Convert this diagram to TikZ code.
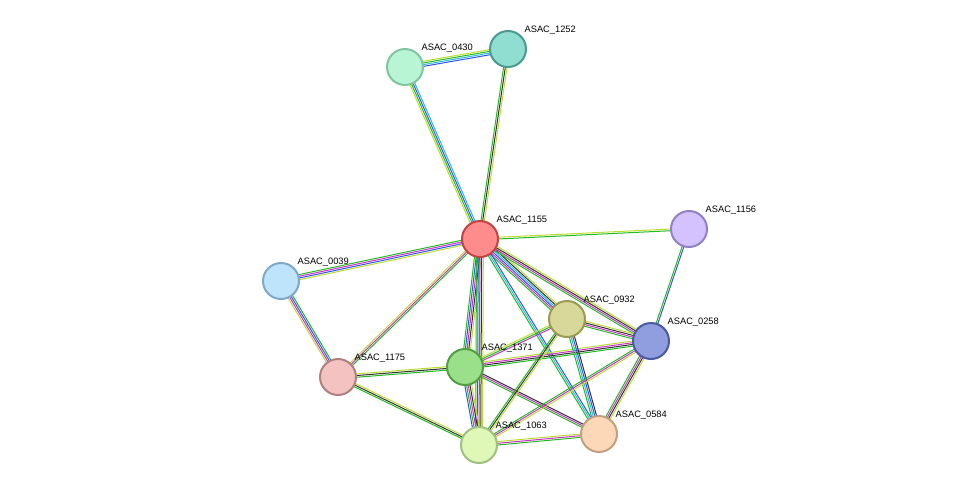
\documentclass[tikz,border=0pt]{standalone}
\usepackage{fontspec}
\setmainfont{Liberation Sans}
\usetikzlibrary{calc,backgrounds}
\definecolor{eg}{HTML}{22BB22}
\definecolor{eb}{HTML}{3355EE}
\definecolor{em}{HTML}{CC33CC}
\definecolor{ek}{HTML}{333333}
\definecolor{ey}{HTML}{BBDD33}
\definecolor{ec}{HTML}{33BBDD}
\definecolor{fA}{HTML}{B8F5D4}\definecolor{dA}{HTML}{80C4A0}
\definecolor{fB}{HTML}{90DED2}\definecolor{dB}{HTML}{4A9A90}
\definecolor{fC}{HTML}{FF8C8C}\definecolor{dC}{HTML}{C04444}
\definecolor{fD}{HTML}{D4C2FF}\definecolor{dD}{HTML}{9080C4}
\definecolor{fE}{HTML}{BEE4FB}\definecolor{dE}{HTML}{80A8C8}
\definecolor{fF}{HTML}{D8D89A}\definecolor{dF}{HTML}{9A9A50}
\definecolor{fG}{HTML}{909EE0}\definecolor{dG}{HTML}{4A5AA0}
\definecolor{fH}{HTML}{9ADF8A}\definecolor{dH}{HTML}{50A040}
\definecolor{fI}{HTML}{F5C2C2}\definecolor{dI}{HTML}{B08080}
\definecolor{fJ}{HTML}{DFF8B8}\definecolor{dJ}{HTML}{A0C080}
\definecolor{fK}{HTML}{FCD8B8}\definecolor{dK}{HTML}{C0A080}
\newcommand\edg[4]{%
  \foreach \c [count=\i] in {#4} {%
    \pgfmathsetmacro\o{(\i-(#3+1)/2)*1.7}%
    \draw[\c, line width=1pt] ($(#1)!\o pt!90:(#2)$) -- ($(#2)!\o pt!-90:(#1)$);
  }}
\tikzset{
  prot/.style n args={3}{circle, minimum size=36pt, inner sep=0pt, line width=2pt, draw=#2, fill=#1,
    label={[anchor=south west, inner sep=1pt, xshift=2pt, font=\fontsize{9.3pt}{11pt}\selectfont]45:#3}}
}
\begin{document}
\begin{tikzpicture}[x=1pt,y=-1pt]
\useasboundingbox (0,0) rectangle (975,491);
\node[prot={fA}{dA}{ASAC\_0430}] (n0430) at (405,67) {};
\node[prot={fB}{dB}{ASAC\_1252}] (n1252) at (508,49) {};
\node[prot={fC}{dC}{ASAC\_1155}] (n1155) at (480,239) {};
\node[prot={fD}{dD}{ASAC\_1156}] (n1156) at (689,229) {};
\node[prot={fE}{dE}{ASAC\_0039}] (n0039) at (281,281) {};
\node[prot={fF}{dF}{ASAC\_0932}] (n0932) at (567,319) {};
\node[prot={fG}{dG}{ASAC\_0258}] (n0258) at (651,341) {};
\node[prot={fH}{dH}{ASAC\_1371}] (n1371) at (465,367) {};
\node[prot={fI}{dI}{ASAC\_1175}] (n1175) at (338,377) {};
\node[prot={fJ}{dJ}{ASAC\_1063}] (n1063) at (479,445) {};
\node[prot={fK}{dK}{ASAC\_0584}] (n0584) at (599,434) {};
\begin{pgfonlayer}{background}
\edg{n0430}{n1252}{4}{eb,ec,eg,ey}
\edg{n0430}{n1155}{4}{ey,eg,eb,ec}
\edg{n1252}{n1155}{3}{eg,ek,ey}
\edg{n1155}{n1156}{2}{eg,ey}
\edg{n1155}{n0039}{4}{eg,em,eb,ey}
\edg{n1155}{n1175}{3}{ey,em,eg}
\edg{n1155}{n1371}{5}{eg,eb,em,ek,ey}
\edg{n1155}{n1063}{5}{eg,eb,em,ek,ey}
\edg{n1155}{n0932}{6}{eg,em,eb,ec,ek,ey}
\edg{n1155}{n0258}{4}{eg,em,ek,ey}
\edg{n1155}{n0584}{3}{eg,ec,eb}
\edg{n0039}{n1175}{4}{ey,em,eb,eg}
\edg{n1175}{n1371}{3}{eg,ek,ey}
\edg{n1175}{n1063}{3}{eg,ek,ey}
\edg{n1371}{n1063}{5}{eb,eg,em,ek,ey}
\edg{n1371}{n0932}{3}{em,eg,ey}
\edg{n1371}{n0258}{4}{eg,ek,em,ey}
\edg{n1371}{n0584}{3}{eg,em,ek}
\edg{n0932}{n0258}{4}{eg,em,ek,ey}
\edg{n0932}{n1063}{3}{eg,ek,ey}
\edg{n0932}{n0584}{4}{eg,ec,eb,ek}
\edg{n0258}{n1063}{3}{eg,em,ey}
\edg{n0258}{n0584}{4}{eg,em,ek,ey}
\edg{n1063}{n0584}{3}{eg,em,ey}
\edg{n1156}{n0258}{2}{eg,eb}
\end{pgfonlayer}
\end{tikzpicture}
\end{document}
